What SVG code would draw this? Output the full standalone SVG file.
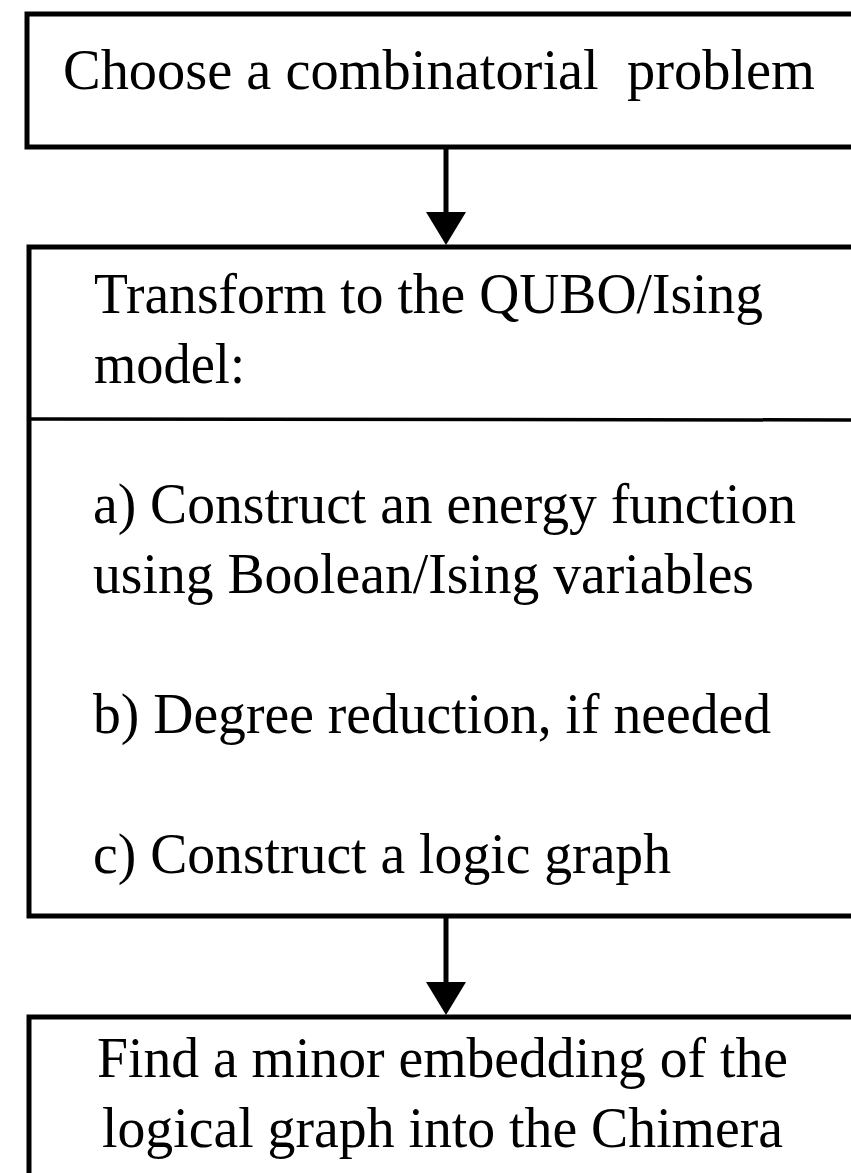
<svg xmlns="http://www.w3.org/2000/svg" width="851" height="1173" viewBox="0 0 851 1173">
<style>
.box{fill:#ffffff;stroke:#000000;stroke-width:5}
.div{stroke:#000000;stroke-width:3.5;fill:none}
.t{font-family:"Liberation Serif","Times New Roman",serif;font-size:58px;fill:#000000}
.c{text-anchor:middle}
.edge{stroke:#000000;stroke-width:5;fill:none}
.head{fill:#000000}
</style>
<rect x="0" y="0" width="851" height="1173" fill="#ffffff"/>
<g id="node-choose">
<rect class="box" x="27" y="14" width="840" height="133"/>
<text class="t" x="63" y="89" textLength="752" lengthAdjust="spacingAndGlyphs" xml:space="preserve">Choose a combinatorial  problem</text>
</g>
<g id="node-transform">
<rect class="box" x="29" y="247" width="840" height="669"/>
<line class="div" x1="29" y1="419" x2="869" y2="420"/>
<text class="t" x="94" y="313" textLength="669" lengthAdjust="spacingAndGlyphs">Transform to the QUBO/Ising</text>
<text class="t" x="94" y="383" textLength="151" lengthAdjust="spacingAndGlyphs">model:</text>
<text class="t" x="93" y="523" textLength="703" lengthAdjust="spacingAndGlyphs">a) Construct an energy function</text>
<text class="t" x="93" y="593" textLength="661" lengthAdjust="spacingAndGlyphs">using Boolean/Ising variables</text>
<text class="t" x="93" y="733" textLength="678" lengthAdjust="spacingAndGlyphs">b) Degree reduction, if needed</text>
<text class="t" x="93" y="873" textLength="578" lengthAdjust="spacingAndGlyphs">c) Construct a logic graph</text>
</g>
<g id="node-embed">
<rect class="box" x="29" y="1017" width="840" height="220"/>
<text class="t" x="97" y="1077" textLength="691" lengthAdjust="spacingAndGlyphs">Find a minor embedding of the</text>
<text class="t" x="102" y="1147" textLength="681" lengthAdjust="spacingAndGlyphs">logical graph into the Chimera</text>
</g>
<g id="connectors">
<line class="edge" x1="446" y1="147" x2="446" y2="214"/>
<polygon class="head" points="426,212 466,212 446,245"/>
<line class="edge" x1="446" y1="916" x2="446" y2="984"/>
<polygon class="head" points="426,982 466,982 446,1015"/>
</g>
</svg>
